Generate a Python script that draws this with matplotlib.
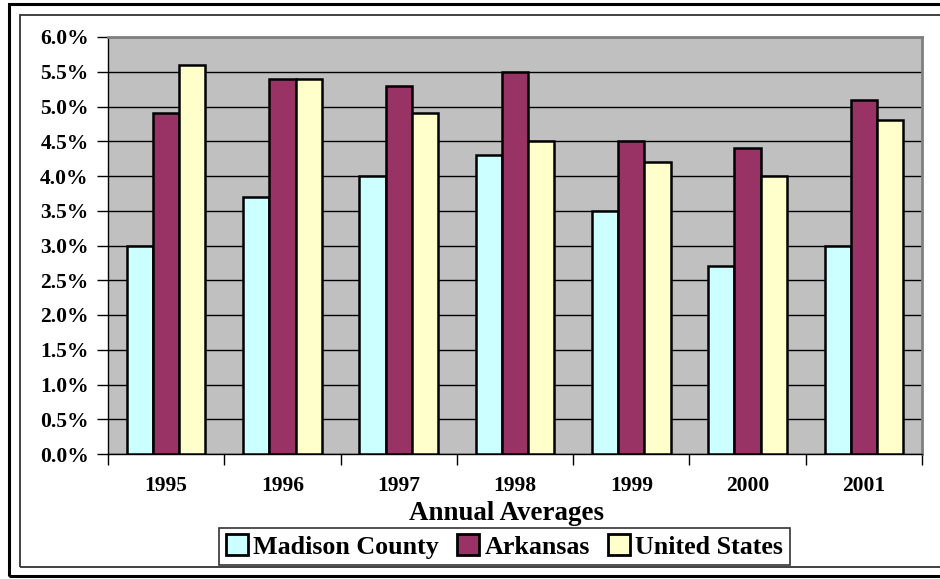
import matplotlib
matplotlib.use("Agg")
import matplotlib.pyplot as plt
from matplotlib.patches import Rectangle
from matplotlib.ticker import FuncFormatter, FixedLocator, NullFormatter
import numpy as np

years = ["1995", "1996", "1997", "1998", "1999", "2000", "2001"]
madison = [3.0, 3.7, 4.0, 4.3, 3.5, 2.7, 3.0]
arkansas = [4.9, 5.4, 5.3, 5.5, 4.5, 4.4, 5.1]
united_states = [5.6, 5.4, 4.9, 4.5, 4.2, 4.0, 4.8]
series_names = ["Madison County", "Arkansas", "United States"]
colors = ["#CCFFFF", "#993366", "#FFFFCC"]

plt.rcParams['font.family'] = ['Liberation Serif', 'DejaVu Serif']
plt.rcParams['font.weight'] = 'bold'

W, H = 940, 579
fig = plt.figure(figsize=(W / 100, H / 100), dpi=100)
fig.patch.set_facecolor("white")

# frames
fig.patches.append(Rectangle((9 / W, 1 - 576 / H), 1.0, (576 - 4) / H, transform=fig.transFigure,
                             fill=False, edgecolor="black", linewidth=2.2, zorder=0))
fig.patches.append(Rectangle((20 / W, 1 - 567 / H), 1.0, (567 - 15) / H, transform=fig.transFigure,
                             fill=False, edgecolor="#333333", linewidth=1.3, zorder=0))

left, right, top, bottom = 108 / W, 922 / W, 1 - 37 / H, 1 - 454 / H
ax = fig.add_axes([left, bottom, right - left, top - bottom])
ax.set_facecolor("#C0C0C0")

x = np.arange(len(years))
bw = 0.225
data = [madison, arkansas, united_states]
for i, (vals, c, name) in enumerate(zip(data, colors, series_names)):
    ax.bar(x + (i - 1) * bw, vals, width=bw, color=c, edgecolor="black",
           linewidth=1.8, label=name, zorder=3)

ax.set_xlim(-0.5, len(years) - 0.5)
ax.set_ylim(0, 6.0)
ax.set_yticks(np.arange(0, 6.01, 0.5))
ax.yaxis.set_major_formatter(FuncFormatter(lambda v, p: f"{v:.1f}%"))
ax.yaxis.grid(True, color="black", linewidth=1.0, zorder=1)
ax.set_axisbelow(True)

ax.set_xticks(x)
ax.set_xticklabels(years)
ax.tick_params(axis="x", which="major", length=0, labelsize=15.5, pad=16)
ax.xaxis.set_minor_locator(FixedLocator(np.arange(-0.5, len(years), 1.0)))
ax.xaxis.set_minor_formatter(NullFormatter())
ax.tick_params(axis="x", which="minor", length=8, width=1, color="black", direction="out")
ax.tick_params(axis="y", length=8, width=1, labelsize=15.5, pad=6, direction="out")
for lab in ax.get_xticklabels() + ax.get_yticklabels():
    lab.set_fontweight("bold")

for s in ["top", "right"]:
    ax.spines[s].set_color("#808080")
    ax.spines[s].set_linewidth(2)
for s in ["left", "bottom"]:
    ax.spines[s].set_color("black")
    ax.spines[s].set_linewidth(1)

fig.text(506 / W, 1 - 513 / H, "Annual Averages", ha="center", va="center",
         fontsize=19.4, fontweight="bold")

handles, labels = ax.get_legend_handles_labels()
leg = fig.legend(handles, labels, loc="center", bbox_to_anchor=(504.5 / W, 1 - 546.5 / H),
                 ncol=3, frameon=True, fancybox=False, shadow=False,
                 prop={"size": 18.7, "weight": "bold"}, handlelength=0.85, handleheight=0.85,
                 handletextpad=0.2, columnspacing=0.7, borderpad=0.25, borderaxespad=0)
leg.get_frame().set_edgecolor("black")
leg.get_frame().set_linewidth(1.2)
for h in leg.legend_handles:
    h.set_linewidth(2.0)

fig.savefig("out.png", dpi=100)
